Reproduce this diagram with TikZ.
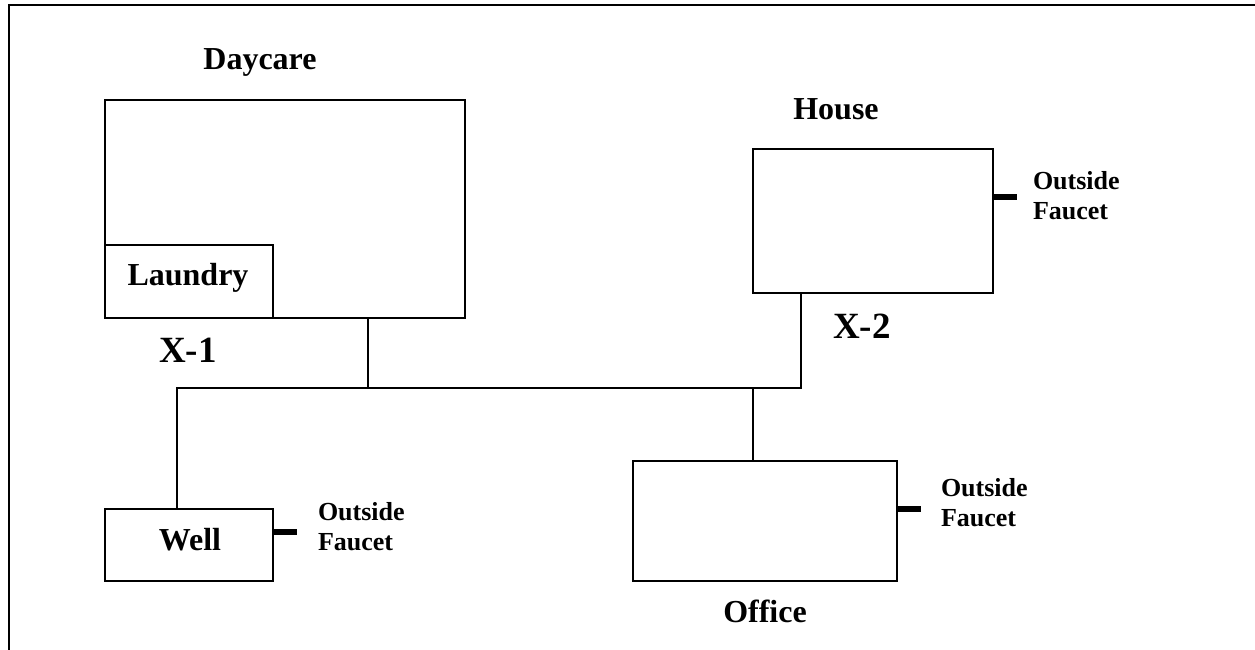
\documentclass[tikz,border=0pt]{standalone}
\usepackage{fontspec}
\setmainfont{Liberation Serif}
\begin{document}
\begin{tikzpicture}[x=1pt,y=-1pt,
  line width=2pt,
  box/.style={draw=black, line width=2pt, inner sep=0pt, outer sep=0pt, rectangle},
  big/.style={font=\fontsize{32}{38}\selectfont\bfseries, inner sep=0pt, anchor=base},
  xlabel/.style={font=\fontsize{37}{44}\selectfont\bfseries, inner sep=0pt, anchor=base},
  fauc/.style={font=\fontsize{26}{30}\selectfont\bfseries, inner sep=0pt, align=left, anchor=west},
  faucetbar/.style={fill=black, draw=none, inner sep=0pt, outer sep=0pt, minimum width=24pt, minimum height=6pt, anchor=west},
  pipe/.style={draw=black, line width=2pt}]
\useasboundingbox (0,0) rectangle (1255,650);
% frame
\draw[line width=2pt] (1255,5) -- (9,5) -- (9,650);
% buildings
\node[box, minimum width=360pt, minimum height=218pt] (daycare) at (285,209) {};
\node[box, minimum width=168pt, minimum height=73pt] (laundry) at (189,281.5) {};
\node[big] (laundrylbl) at (188,285) {Laundry};
\node[box, minimum width=168pt, minimum height=72pt] (well) at (189,545) {};
\node[big] (welllbl) at (190,550) {Well};
\node[box, minimum width=240pt, minimum height=144pt] (house) at (873,221) {};
\node[box, minimum width=264pt, minimum height=120pt] (office) at (765,521) {};
% labels
\node[big] (daycarelbl) at (260,70) {Daycare};
\node[big] (houselbl) at (836,120) {House};
\node[big] (officelbl) at (765,622) {Office};
\node[xlabel] (x1) at (188,362) {X-1};
\node[xlabel] (x2) at (862,338) {X-2};
% faucets
\node[faucetbar] (wf) at (well.east |- 0,532) {};
\node[faucetbar] (hf) at (house.east |- 0,197) {};
\node[faucetbar] (of) at (office.east |- 0,509) {};
\node[fauc] (wft) at (317,527) {Outside\\Faucet};
\node[fauc] (hft) at (1032,196) {Outside\\Faucet};
\node[fauc] (oft) at (940,503) {Outside\\Faucet};
% pipes
\coordinate (jw) at (177,388);
\coordinate (jd) at (368,388);
\coordinate (jo) at (753,388);
\coordinate (jh) at (801,388);
\draw[pipe] (well.north -| jw) -- (jw) -- (jh) -- (house.south -| jh);
\draw[pipe] (daycare.south -| jd) -- (jd);
\draw[pipe] (office.north -| jo) -- (jo);
\end{tikzpicture}
\end{document}
